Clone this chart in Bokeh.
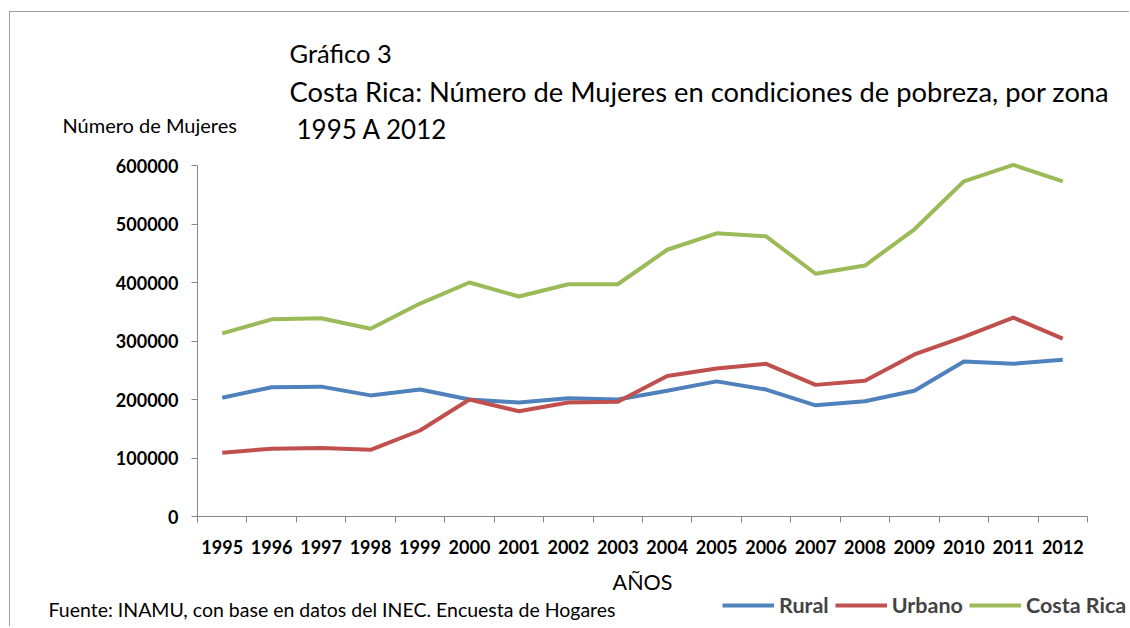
from bokeh.plotting import figure
from bokeh.layouts import column
from bokeh.models import (FixedTicker, Label, LabelSet, Legend, LegendItem,
                          ColumnDataSource, Range1d)
from bokeh.core.properties import value
from bokeh.embed import file_html
from bokeh.resources import INLINE

# ---------------- data ----------------
years = list(range(1995, 2013))
rural = [203000, 221000, 222000, 207000, 217000, 200000, 195000, 202000, 200000,
         215000, 231000, 217000, 190000, 197000, 215000, 265000, 261000, 268000]
urbano = [109000, 116000, 117000, 114000, 147000, 200000, 180000, 195000, 196000,
          240000, 253000, 261000, 225000, 232000, 277000, 307000, 340000, 304000]
costa_rica = [313000, 337000, 339000, 321000, 364000, 400000, 376000, 397000, 397000,
              456000, 484000, 479000, 415000, 429000, 491000, 573000, 601000, 573000]
y_ticks = [0, 100000, 200000, 300000, 400000, 500000, 600000]
y_tick_labels = [str(v) for v in y_ticks]
year_labels = [str(y) for y in years]
series_names = ["Rural", "Urbano", "Costa Rica"]

# ---------------- layout constants (pixels) ----------------
FONT = "Lato"
W, H = 1119, 614            # figure size
BL, BT = 10, 10             # min borders left / top (axes panels)
FW, FH = W - BL, H - BT     # frame size
AX_L, AX_R = 177, 1067      # plot-area left/right inside frame (px from frame left)
AX_B, AX_T = 110, 461       # plot-area bottom/top (px from frame bottom)

x0, x1 = years[0] - 0.5, years[-1] + 0.5
y0, y1 = 0, 600000
xpp = (x1 - x0) / (AX_R - AX_L)
ypp = (y1 - y0) / (AX_T - AX_B)
x_range = Range1d(x0 - AX_L * xpp, x1 + (FW - AX_R) * xpp)
y_range = Range1d(y0 - AX_B * ypp, y1 + (FH - AX_T) * ypp)

colors = ["#4F81BD", "#C0504D", "#9BBB59"]
AXIS_COLOR = "#868686"

p = figure(width=W, height=H, output_backend="svg", toolbar_location=None,
           x_range=x_range, y_range=y_range, x_axis_location="above",
           min_border_left=BL, min_border_top=BT, min_border_right=0, min_border_bottom=0)
p.outline_line_color = None
p.grid.visible = False

# x axis: drawn at y=0, category boundary ticks pointing down
ax = p.xaxis[0]
ax.fixed_location = 0
ax.bounds = (x0, x1)
ax.ticker = FixedTicker(ticks=[], minor_ticks=[y - 0.5 for y in years] + [x1])
ax.major_tick_in = 0
ax.major_tick_out = 0
ax.minor_tick_in = 6
ax.minor_tick_out = 0
ax.minor_tick_line_color = AXIS_COLOR
ax.axis_line_color = AXIS_COLOR
ax.major_label_standoff = 0

# y axis: drawn at the left edge of the plot area
ay = p.yaxis[0]
ay.fixed_location = x0
ay.bounds = (y0, y1)
ay.ticker = FixedTicker(ticks=[], minor_ticks=y_ticks)
ay.major_tick_in = 0
ay.major_tick_out = 0
ay.minor_tick_in = 0
ay.minor_tick_out = 6
ay.minor_tick_line_color = AXIS_COLOR
ay.axis_line_color = AXIS_COLOR
ay.major_label_standoff = 0

# tick labels
ysrc = ColumnDataSource(dict(x=[x0] * len(y_ticks), y=y_ticks, t=y_tick_labels))
p.add_layout(LabelSet(x="x", y="y", text="t", source=ysrc, x_offset=-19,
                      text_align="right", text_baseline="middle", text_font=value(FONT),
                      text_font_size="18px", text_font_style="bold", text_color="black"))
xsrc = ColumnDataSource(dict(x=years, y=[y0] * len(years), t=year_labels))
p.add_layout(LabelSet(x="x", y="y", text="t", source=xsrc, y_offset=-30,
                      text_align="center", text_baseline="middle", text_font=value(FONT),
                      text_font_size="18px", text_font_style="bold", text_color="black"))

renderers = []
for vals, c in zip([rural, urbano, costa_rica], colors):
    renderers.append(p.line(years, vals, line_color=c, line_width=4))


def lab(text, x, y, size, bold=False, align="left"):
    p.add_layout(Label(x=x, y=y, x_units="screen", y_units="screen", text=text,
                       text_font=FONT, text_font_size=size, text_align=align,
                       text_baseline="middle", text_color="black",
                       text_font_style="bold" if bold else "normal"))


lab("Gráfico 3", 269, 574, "25.5px")
lab("Costa Rica: Número de Mujeres en condiciones de pobreza, por zona", 269, 535, "27.3px")
lab(" 1995 A 2012", 276, 498, "26px")
lab("Número de Mujeres", 42, 502, "20px")
lab("AÑOS", 622, 45, "21.5px", align="center")
lab("Fuente: INAMU, con base en datos del INEC. Encuesta de Hogares", 28, 17, "19.5px")

legend = Legend(items=[LegendItem(label=n, renderers=[r]) for n, r in zip(series_names, renderers)],
                orientation="horizontal", location=(702, 8),
                glyph_width=52, glyph_height=20, label_text_font=FONT,
                label_text_font_style="bold", label_text_font_size="21.5px",
                label_standoff=5, spacing=6, padding=0, margin=0,
                border_line_color=None, background_fill_alpha=0)
p.add_layout(legend, "center")

layout = column(p, spacing=0,
                styles={"margin-left": "9px", "margin-top": "11px",
                        "border-left": "1px solid #a0a0a0",
                        "border-top": "1px solid #a0a0a0"})

open("out.html", "w").write(file_html(layout, INLINE))
